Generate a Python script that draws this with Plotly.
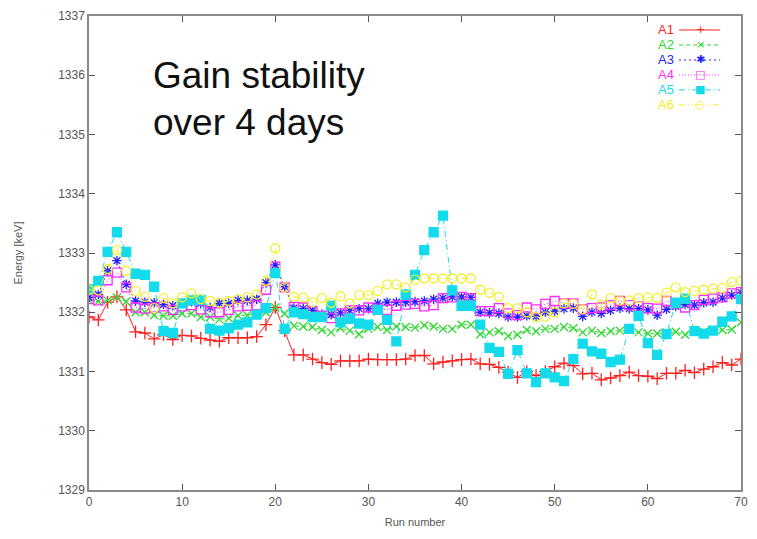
import plotly.graph_objects as go

# Run index 0..70
runs = list(range(71))

a1 = [1331.92, 1331.87, 1332.17, 1332.26, 1332.04, 1331.67, 1331.65, 1331.55, 1331.62, 1331.54,
      1331.61, 1331.60, 1331.56, 1331.53, 1331.51, 1331.57, 1331.57, 1331.57, 1331.59, 1331.79,
      1332.08, 1331.69, 1331.28, 1331.28, 1331.21, 1331.15, 1331.12, 1331.18, 1331.18, 1331.18,
      1331.21, 1331.20, 1331.20, 1331.20, 1331.21, 1331.27, 1331.27, 1331.13, 1331.16, 1331.18,
      1331.20, 1331.21, 1331.13, 1331.12, 1331.07, 1330.99, 1330.90, 1331.00, 1330.93, 1331.00,
      1331.08, 1331.14, 1331.10, 1330.96, 1330.97, 1330.86, 1330.89, 1330.93, 1330.99, 1330.93,
      1330.92, 1330.88, 1330.97, 1330.97, 1331.02, 1330.98, 1331.04, 1331.08, 1331.15, 1331.11,
      1331.21]

a2 = [1332.20, 1332.18, 1332.20, 1332.25, 1332.18, 1332.00, 1332.00, 1331.95, 1331.94, 1331.94,
      1331.98, 1331.98, 1331.92, 1331.92, 1331.88, 1331.90, 1331.94, 1331.95, 1331.97, 1332.00,
      1332.08, 1331.98, 1331.77, 1331.76, 1331.75, 1331.70, 1331.66, 1331.73, 1331.69, 1331.63,
      1331.72, 1331.75, 1331.70, 1331.76, 1331.75, 1331.74, 1331.78, 1331.76, 1331.72, 1331.72,
      1331.79, 1331.79, 1331.63, 1331.66, 1331.68, 1331.60, 1331.62, 1331.70, 1331.68, 1331.72,
      1331.72, 1331.75, 1331.73, 1331.66, 1331.69, 1331.65, 1331.68, 1331.69, 1331.70, 1331.66,
      1331.64, 1331.64, 1331.66, 1331.67, 1331.62, 1331.67, 1331.67, 1331.70, 1331.70, 1331.71,
      1331.83]

a3 = [1332.25, 1332.30, 1332.70, 1332.87, 1332.47, 1332.19, 1332.17, 1332.16, 1332.13, 1332.11,
      1332.15, 1332.18, 1332.15, 1332.08, 1332.15, 1332.15, 1332.20, 1332.20, 1332.22, 1332.50,
      1332.80, 1332.43, 1332.07, 1332.06, 1332.03, 1331.97, 1331.96, 1331.99, 1332.03, 1332.06,
      1332.06, 1332.15, 1332.17, 1332.17, 1332.17, 1332.18, 1332.19, 1332.22, 1332.24, 1332.26,
      1332.26, 1332.25, 1332.00, 1331.99, 1331.98, 1331.92, 1331.92, 1331.94, 1331.93, 1332.00,
      1332.02, 1332.06, 1332.07, 1331.93, 1332.00, 1331.98, 1332.03, 1332.07, 1332.06, 1332.06,
      1332.04, 1331.95, 1332.05, 1332.10, 1332.13, 1332.12, 1332.16, 1332.17, 1332.24, 1332.29,
      1332.33]

a4 = [1332.22, 1332.20, 1332.54, 1332.67, 1332.42, 1332.08, 1332.06, 1332.08, 1332.10, 1332.04,
      1332.10, 1332.12, 1332.05, 1332.00, 1332.00, 1332.04, 1332.10, 1332.11, 1332.12, 1332.38,
      1332.77, 1332.42, 1332.09, 1332.08, 1332.02, 1331.94, 1331.90, 1331.98, 1332.03, 1332.03,
      1332.08, 1332.06, 1332.04, 1332.11, 1332.13, 1332.14, 1332.10, 1332.12, 1332.24, 1332.25,
      1332.26, 1332.24, 1332.02, 1332.02, 1332.07, 1331.98, 1331.95, 1332.08, 1332.05, 1332.14,
      1332.19, 1332.15, 1332.15, 1332.05, 1332.07, 1332.08, 1332.12, 1332.19, 1332.12, 1332.10,
      1332.07, 1332.06, 1332.19, 1332.15, 1332.08, 1332.12, 1332.21, 1332.23, 1332.25, 1332.32,
      1332.34]

a5 = [1332.39, 1332.53, 1333.02, 1333.35, 1333.02, 1332.65, 1332.63, 1332.43, 1331.68, 1331.65,
      1332.15, 1332.20, 1332.21, 1331.72, 1331.69, 1331.73, 1331.79, 1331.83, 1331.96, 1332.07,
      1332.66, 1331.72, 1332.00, 1331.97, 1331.92, 1331.92, 1332.11, 1331.83, 1331.89, 1331.81,
      1331.79, 1332.04, 1331.87, 1331.51, 1332.30, 1332.63, 1333.05, 1333.35, 1333.63, 1332.37,
      1332.11, 1332.11, 1331.79, 1331.40, 1331.33, 1330.96, 1331.36, 1330.97, 1330.82, 1330.97,
      1330.90, 1330.84, 1331.21, 1331.47, 1331.34, 1331.30, 1331.16, 1331.20, 1331.72, 1331.94,
      1331.48, 1331.28, 1331.63, 1332.16, 1332.23, 1331.68, 1331.64, 1331.69, 1331.84, 1331.93,
      1332.22]

a6 = [1332.38, 1332.37, 1332.73, 1333.05, 1332.70, 1332.36, 1332.26, 1332.07, 1332.24, 1332.15,
      1332.25, 1332.32, 1332.22, 1332.19, 1332.16, 1332.19, 1332.22, 1332.25, 1332.30, 1332.53,
      1333.08, 1332.42, 1332.26, 1332.25, 1332.17, 1332.24, 1332.16, 1332.27, 1332.15, 1332.29,
      1332.29, 1332.36, 1332.47, 1332.47, 1332.42, 1332.55, 1332.57, 1332.57, 1332.57, 1332.57,
      1332.57, 1332.57, 1332.38, 1332.33, 1332.26, 1332.07, 1332.07, 1332.00, 1331.92, 1331.93,
      1332.00, 1332.15, 1332.14, 1332.05, 1332.30, 1332.13, 1332.24, 1332.20, 1332.20, 1332.24,
      1332.25, 1332.24, 1332.33, 1332.42, 1332.34, 1332.36, 1332.38, 1332.40, 1332.41, 1332.51,
      1332.53]

x_ticks = [0, 10, 20, 30, 40, 50, 60, 70]
y_ticks = [1329, 1330, 1331, 1332, 1333, 1334, 1335, 1336, 1337]

# name, values, colour, dash, marker symbol, marker size, key glyph
series = [
    ("A1", a1, "#ff1f1f", "solid", "cross-thin-open", 9, "+"),
    ("A2", a2, "#2fd82f", "4px,3px", "x-thin-open", 8, "×"),
    ("A3", a3, "#1f1fff", "2px,3px", "asterisk-open", 8, "✱"),
    ("A4", a4, "#ff2bff", "1px,2px", "square-open", 9, "□"),
    ("A5", a5, "#14dbeb", "6px,3px,1px,3px", "square", 9, "■"),
    ("A6", a6, "#f2ef2a", "6px,3px,1px,3px,1px,3px", "circle-open", 9, "○"),
]

FONT = "Liberation Sans, Arial, sans-serif"

fig = go.Figure()
for name, vals, color, dash, symbol, size, glyph in series:
    fig.add_trace(go.Scatter(
        x=runs, y=vals, mode="lines+markers", name=name, showlegend=False,
        line=dict(color=color, width=1, dash=dash),
        marker=dict(symbol=symbol, size=size, color=color,
                    line=dict(color=color, width=1.3)),
    ))

# gnuplot-style key in the top-right corner: label, then line sample with marker
key_top = 0.9705
key_step = 0.0316
for k, (name, vals, color, dash, symbol, size, glyph) in enumerate(series):
    ky = key_top - k * key_step
    fig.add_annotation(text=name, xref="paper", yref="paper", x=0.901, y=ky,
                       xanchor="right", yanchor="middle", showarrow=False,
                       font=dict(family=FONT, size=13, color=color))
    fig.add_shape(type="line", xref="paper", yref="paper",
                  x0=0.905, x1=0.968, y0=ky, y1=ky,
                  line=dict(color=color, width=1, dash=dash))
    fig.add_annotation(text=glyph, xref="paper", yref="paper", x=0.9375, y=ky,
                       xanchor="center", yanchor="middle", showarrow=False,
                       font=dict(family="DejaVu Sans, sans-serif", size=11, color=color))

axis_common = dict(
    showline=True, linecolor="#8a8a8a", linewidth=1.5, mirror="ticks",
    ticks="inside", ticklen=6, tickcolor="#555555", tickwidth=1,
    showgrid=False, zeroline=False,
    tickfont=dict(family=FONT, size=12, color="#555555"),
)

fig.update_xaxes(range=[0, 70], tickvals=x_ticks,
                 title=dict(text="Run number", standoff=10,
                            font=dict(family=FONT, size=11, color="#555555")),
                 **axis_common)
fig.update_yaxes(range=[1329, 1337], tickvals=y_ticks,
                 title=dict(text="Energy [keV]", standoff=33,
                            font=dict(family=FONT, size=11, color="#555555")),
                 **axis_common)

fig.add_annotation(text="Gain stability", xref="paper", yref="paper",
                   x=0.095, y=0.875, xanchor="left", yanchor="middle", showarrow=False,
                   font=dict(family=FONT, size=37, color="#111111"))
fig.add_annotation(text="over 4 days", xref="paper", yref="paper",
                   x=0.095, y=0.776, xanchor="left", yanchor="middle", showarrow=False,
                   font=dict(family=FONT, size=37, color="#111111"))

fig.update_layout(
    width=757, height=539,
    margin=dict(l=89, r=9, t=16, b=49),
    paper_bgcolor="white", plot_bgcolor="white",
    showlegend=False,
)

fig.write_html("out.html")
